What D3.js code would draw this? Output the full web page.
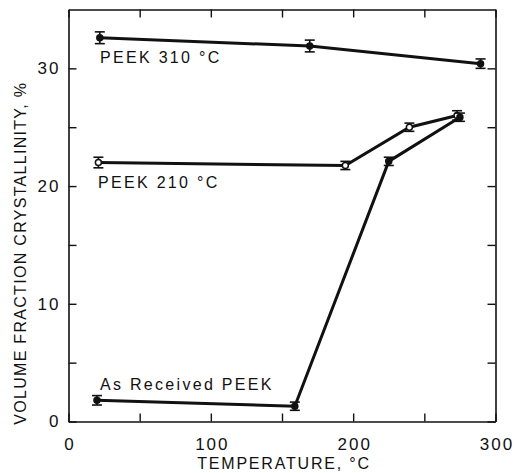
<!DOCTYPE html>
<html>
<head>
<meta charset="utf-8">
<script src="https://cdn.jsdelivr.net/npm/d3@7"></script>
<style>
  body { margin: 0; background: #fff; }
  text { font-family: "Liberation Sans", Arial, sans-serif; fill: #111; }
</style>
</head>
<body>
<div id="chart"></div>
<script>
// Données
const peek310 = [
  {t: 22, v: 32.6, e: 0.5},
  {t: 169.5, v: 31.9, e: 0.5},
  {t: 289.5, v: 30.4, e: 0.4}
]
const peek210 = [
  {t: 21, v: 22.0, e: 0.45},
  {t: 194.5, v: 21.75, e: 0.35},
  {t: 239.5, v: 25.0, e: 0.35},
  {t: 273, v: 26.0, e: 0.4}
]
const asReceived = [
  {t: 20, v: 1.8, e: 0.4},
  {t: 159, v: 1.3, e: 0.35},
  {t: 225, v: 22.1, e: 0.35},
  {t: 275, v: 25.85, e: 0.35}
]
const seriesLabels = ["PEEK 310 °C", "PEEK 210 °C", "As Received PEEK"]
const xTicks = [0, 50, 100, 150, 200, 250, 300]
const yTicks = [0, 5, 10, 15, 20, 25, 30]

const width = 518, height = 473
const margin = {left: 68.5, right: 22.5, top: 9.5, bottom: 51.5}

const svg = d3.select("#chart").append("svg")
  .attr("width", width)
  .attr("height", height)

const x = d3.scaleLinear().domain([0, 300]).range([margin.left, width - margin.right])
const y = d3.scaleLinear().domain([0, 35]).range([height - margin.bottom, margin.top])

const tickLen = 8

// Axes : ticks vers l'intérieur
svg.append("g")
  .attr("transform", `translate(0,${y(0)})`)
  .call(d3.axisBottom(x).tickValues(xTicks).tickSizeInner(-tickLen).tickSizeOuter(0)
    .tickPadding(16).tickFormat(d => d % 100 === 0 ? d : ""))
  .selectAll(".tick text").attr("dx", "1px")
svg.append("g")
  .attr("transform", `translate(0,${y(35)})`)
  .call(d3.axisTop(x).tickValues(xTicks).tickSizeInner(-tickLen).tickSizeOuter(0).tickFormat(""))
svg.append("g")
  .attr("transform", `translate(${x(0)},0)`)
  .call(d3.axisLeft(y).tickValues(yTicks).tickSizeInner(-tickLen).tickSizeOuter(0)
    .tickPadding(8).tickFormat(d => d % 10 === 0 ? d : ""))
svg.append("g")
  .attr("transform", `translate(${x(300)},0)`)
  .call(d3.axisRight(y).tickValues(yTicks).tickSizeInner(-tickLen).tickSizeOuter(0).tickFormat(""))

svg.selectAll(".domain").attr("stroke", "#111").attr("stroke-width", 1.6)
svg.selectAll(".tick line").attr("stroke", "#111").attr("stroke-width", 1.4)
svg.selectAll(".tick text")
  .style("font-size", "17px")
  .style("font-family", "'Liberation Sans', Arial, sans-serif")
  .attr("fill", "#111")
  .style("letter-spacing", "2px")

// Courbes
const line = d3.line().x(d => x(d.t)).y(d => y(d.v))
const allSeries = [
  {data: peek310, open: false},
  {data: peek210, open: true},
  {data: asReceived, open: false}
]

allSeries.forEach(s => {
  svg.append("path")
    .datum(s.data)
    .attr("d", line)
    .attr("fill", "none")
    .attr("stroke", "#111")
    .attr("stroke-width", 3)

  const g = svg.append("g")
  // barres d'erreur
  g.selectAll("line.err").data(s.data).join("line")
    .attr("x1", d => x(d.t)).attr("x2", d => x(d.t))
    .attr("y1", d => y(d.v + d.e)).attr("y2", d => y(d.v - d.e))
    .attr("stroke", "#111").attr("stroke-width", 1.6)
  g.selectAll("line.capTop").data(s.data).join("line")
    .attr("x1", d => x(d.t) - 5).attr("x2", d => x(d.t) + 5)
    .attr("y1", d => y(d.v + d.e)).attr("y2", d => y(d.v + d.e))
    .attr("stroke", "#111").attr("stroke-width", 1.6)
  g.selectAll("line.capBot").data(s.data).join("line")
    .attr("x1", d => x(d.t) - 5).attr("x2", d => x(d.t) + 5)
    .attr("y1", d => y(d.v - d.e)).attr("y2", d => y(d.v - d.e))
    .attr("stroke", "#111").attr("stroke-width", 1.6)
  g.selectAll("circle").data(s.data).join("circle")
    .attr("cx", d => x(d.t)).attr("cy", d => y(d.v))
    .attr("r", 3)
    .attr("fill", s.open ? "#fff" : "#111")
    .attr("stroke", "#111").attr("stroke-width", 1.5)
})

// Étiquettes des séries
const labelPos = [
  {x: 100, y: 63},
  {x: 98, y: 188},
  {x: 100, y: 390}
]
svg.selectAll("text.lbl").data(seriesLabels).join("text")
  .attr("class", "lbl")
  .attr("x", (d, i) => labelPos[i].x)
  .attr("y", (d, i) => labelPos[i].y)
  .style("font-size", "16px")
  .style("letter-spacing", "2.3px")
  .text(d => d)

// Titres des axes
svg.append("text")
  .attr("x", x(150) + 2)
  .attr("y", 469)
  .attr("text-anchor", "middle")
  .style("font-size", "16px")
  .style("letter-spacing", "1.8px")
  .text("TEMPERATURE, °C")

svg.append("text")
  .attr("transform", `translate(26,${(y(0) + 85) / 2}) rotate(-90)`)
  .attr("text-anchor", "middle")
  .style("font-size", "16px")
  .style("letter-spacing", "1.3px")
  .text("VOLUME FRACTION CRYSTALLINITY, %")
</script>
</body>
</html>
